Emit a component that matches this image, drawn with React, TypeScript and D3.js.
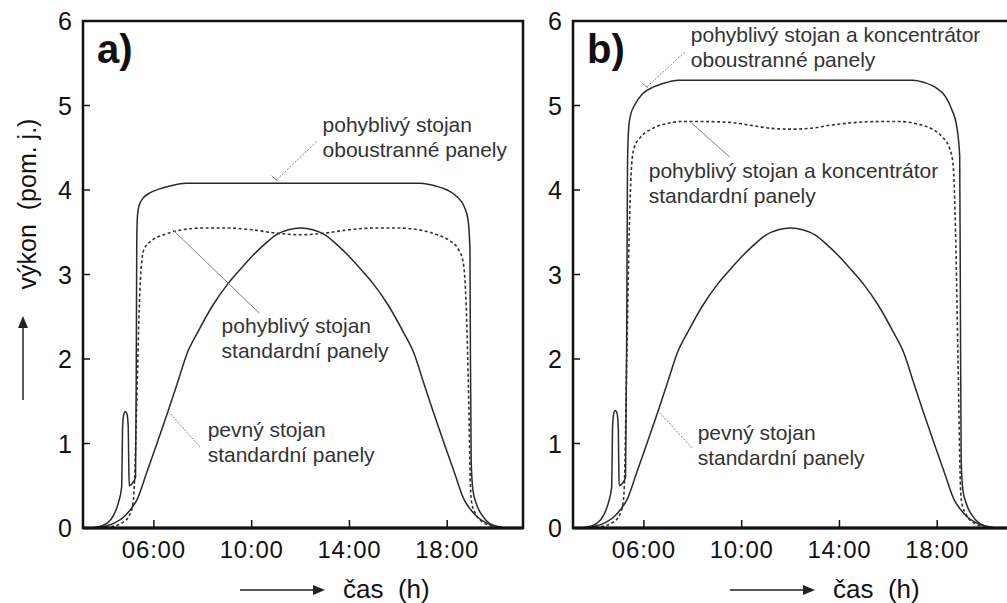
import React from "react";
import * as d3 from "d3";

// časová osa (h) a hodnoty výkonu (pom. j.)
const fixedT = [3.6, 4.0, 4.4, 4.8, 5.1, 5.3, 5.7, 6.1, 6.6, 7.0, 7.35, 7.8, 8.4, 9.0, 9.5, 10.0, 10.5, 11.0, 11.5, 12.0, 12.5, 13.0, 13.5, 14.0, 14.5, 15.0, 15.6, 16.2, 16.65, 17.0, 17.4, 17.9, 18.3, 18.7, 18.9, 19.2, 19.6, 20.0, 20.4];
const fixedV = [0, 0.02, 0.06, 0.14, 0.24, 0.33, 0.65, 0.98, 1.4, 1.75, 2.06, 2.32, 2.63, 2.88, 3.05, 3.21, 3.35, 3.47, 3.53, 3.55, 3.53, 3.47, 3.35, 3.21, 3.05, 2.88, 2.63, 2.32, 2.06, 1.75, 1.4, 0.98, 0.65, 0.33, 0.24, 0.14, 0.06, 0.02, 0];

// a) pohyblivý stojan, oboustranné panely
const trackBiT = [3.4, 3.8, 4.1, 4.35, 4.55, 4.68, 4.7, 4.72, 4.77, 4.83, 4.9, 4.95, 4.97, 4.99, 5.1, 5.25, 5.28, 5.3, 5.33, 5.4, 5.55, 5.8, 6.2, 6.7, 7.3, 12.0, 16.9, 17.5, 18.0, 18.4, 18.7, 18.85, 18.93, 18.95, 18.98, 19.05, 19.2, 19.45, 19.7, 20.0, 20.3];
const trackBiV = [0, 0.02, 0.06, 0.15, 0.3, 0.48, 0.8, 1.2, 1.35, 1.38, 1.35, 1.2, 0.8, 0.5, 0.52, 0.6, 2.0, 3.4, 3.7, 3.82, 3.9, 3.96, 4.01, 4.05, 4.08, 4.08, 4.08, 4.05, 4.0, 3.92, 3.8, 3.65, 3.3, 2.0, 0.8, 0.45, 0.28, 0.14, 0.06, 0.02, 0];

// a) pohyblivý stojan, standardní panely
const trackStdT = [3.8, 4.3, 4.7, 5.0, 5.15, 5.2, 5.3, 5.4, 5.5, 5.6, 5.9, 6.4, 7.0, 8.0, 9.0, 10.0, 11.0, 12.0, 13.0, 14.0, 15.0, 16.0, 17.0, 17.6, 18.1, 18.45, 18.65, 18.78, 18.88, 18.95, 19.0, 19.2, 19.5, 19.8, 20.2];
const trackStdV = [0, 0.02, 0.06, 0.15, 0.3, 0.5, 1.5, 2.6, 3.15, 3.3, 3.4, 3.47, 3.52, 3.55, 3.55, 3.53, 3.49, 3.47, 3.49, 3.53, 3.55, 3.55, 3.52, 3.47, 3.4, 3.3, 3.15, 2.6, 1.5, 0.5, 0.3, 0.15, 0.06, 0.02, 0];

// b) pohyblivý stojan a koncentrátor, oboustranné panely
const concBiT = [3.4, 3.8, 4.1, 4.35, 4.55, 4.68, 4.7, 4.72, 4.77, 4.83, 4.9, 4.95, 4.97, 4.99, 5.1, 5.25, 5.3, 5.33, 5.37, 5.45, 5.65, 5.95, 6.4, 6.9, 7.4, 12.0, 17.0, 17.5, 18.0, 18.35, 18.6, 18.8, 18.92, 18.95, 18.98, 19.05, 19.2, 19.45, 19.7, 20.0, 20.3];
const concBiV = [0, 0.02, 0.06, 0.15, 0.3, 0.48, 0.8, 1.2, 1.36, 1.39, 1.36, 1.2, 0.8, 0.5, 0.52, 0.6, 2.5, 4.3, 4.7, 4.88, 5.02, 5.14, 5.22, 5.27, 5.3, 5.3, 5.3, 5.27, 5.2, 5.1, 4.95, 4.75, 4.4, 2.5, 0.8, 0.45, 0.28, 0.14, 0.06, 0.02, 0];

// b) pohyblivý stojan a koncentrátor, standardní panely
const concStdT = [3.8, 4.3, 4.7, 5.0, 5.15, 5.2, 5.3, 5.4, 5.5, 5.6, 5.85, 6.3, 7.0, 7.5, 8.5, 9.5, 10.5, 11.2, 12.0, 12.8, 13.7, 14.7, 15.7, 16.5, 17.2, 17.8, 18.2, 18.5, 18.65, 18.75, 18.85, 18.95, 19.0, 19.2, 19.5, 19.8, 20.2];
const concStdV = [0, 0.02, 0.06, 0.15, 0.3, 0.5, 2.0, 3.5, 4.3, 4.5, 4.62, 4.72, 4.79, 4.81, 4.81, 4.8, 4.76, 4.73, 4.72, 4.73, 4.77, 4.8, 4.81, 4.81, 4.78, 4.72, 4.63, 4.5, 4.3, 3.5, 2.0, 0.5, 0.3, 0.15, 0.06, 0.02, 0];

const xTickValues = [6, 10, 14, 18];
const xTickLabels = ["06:00", "10:00", "14:00", "18:00"];
const yTickValues = [0, 1, 2, 3, 4, 5, 6];

// popisky: text a odkazová čára v datových souřadnicích [t, v]
const labelsA = [
  { lines: ["pohyblivý stojan", "oboustranné panely"], at: [12.9, 4.69], from: [12.65, 4.57], to: [11.02, 4.12], dashed: true, tick: true },
  { lines: ["pohyblivý stojan", "standardní panely"], at: [8.77, 2.31], from: [10.32, 2.54], to: [6.77, 3.53], dashed: false, tick: false },
  { lines: ["pevný stojan", "standardní panely"], at: [8.2, 1.08], from: [7.88, 0.96], to: [6.53, 1.4], dashed: true, tick: false },
];
const labelsB = [
  { lines: ["pohyblivý stojan a koncentrátor", "oboustranné panely"], at: [7.92, 5.75], from: [7.67, 5.63], to: [6.12, 5.22], dashed: true, tick: true },
  { lines: ["pohyblivý stojan a koncentrátor", "standardní panely"], at: [6.2, 4.14], from: [9.51, 4.39], to: [7.96, 4.79], dashed: false, tick: false },
  { lines: ["pevný stojan", "standardní panely"], at: [8.2, 1.04], from: [7.96, 0.95], to: [6.53, 1.4], dashed: true, tick: false },
];

const FONT = "'Liberation Sans', Arial, Helvetica, sans-serif";
const top = 21;
const bottom = 528;
const pw = 440;

const zip = (t: number[], v: number[]): [number, number][] => t.map((d, i) => [d, v[i]]);

type Label = { lines: string[]; at: number[]; from: number[]; to: number[]; dashed: boolean; tick: boolean };

const Panel = ({ left, tag, solid, dashed, labels, id }: { left: number; tag: string; solid: [number, number][]; dashed: [number, number][]; labels: Label[]; id: string }) => {
  const x = d3.scaleLinear().domain([3.1, 21.1]).range([left, left + pw]);
  const y = d3.scaleLinear().domain([0, 6]).range([bottom, top]);
  const line = d3
    .line<[number, number]>()
    .x((d) => x(d[0]))
    .y((d) => y(d[1]))
    .curve(d3.curveMonotoneX);
  const fixed = zip(fixedT, fixedV);

  return (
    <g>
      <defs>
        <clipPath id={id}>
          <rect x={left} y={top} width={pw} height={bottom - top} />
        </clipPath>
      </defs>
      <g clipPath={`url(#${id})`}>
        <path d={line(fixed) || ""} fill="none" stroke="#2a2a2a" strokeWidth={1.5} />
        <path d={line(dashed) || ""} fill="none" stroke="#333" strokeWidth={1.6} strokeDasharray="3,2.5" />
        <path d={line(solid) || ""} fill="none" stroke="#2a2a2a" strokeWidth={1.5} />
        {labels.map((l, i) => (
          <g key={i}>
            <line
              x1={x(l.from[0])}
              y1={y(l.from[1])}
              x2={x(l.to[0])}
              y2={y(l.to[1])}
              stroke="#808080"
              strokeWidth={1}
              strokeDasharray={l.dashed ? "2,1.5" : undefined}
            />
            {l.tick && (
              <line x1={x(l.to[0]) - 5} y1={y(l.to[1]) - 4} x2={x(l.to[0]) + 1} y2={y(l.to[1]) + 1} stroke="#808080" strokeWidth={1} />
            )}
          </g>
        ))}
      </g>
      {labels.map((l, i) =>
        l.lines.map((s, j) => (
          <text key={`${i}-${j}`} x={x(l.at[0])} y={y(l.at[1]) + j * 25} fontSize={21} fill="#333" fontFamily={FONT}>
            {s}
          </text>
        ))
      )}
      {/* rámeček */}
      <rect x={left} y={top} width={pw} height={bottom - top} fill="none" stroke="#111" strokeWidth={2.5} />
      <line x1={left} x2={left + pw} y1={bottom} y2={bottom} stroke="#111" strokeWidth={3} />
      {yTickValues.map((v) => (
        <g key={v}>
          <line x1={left} x2={left + 7} y1={y(v)} y2={y(v)} stroke="#111" strokeWidth={1.5} />
          <text x={left - 11} y={y(v) + 9} textAnchor="end" fontSize={25} fill="#111" fontFamily={FONT}>
            {v}
          </text>
        </g>
      ))}
      {xTickValues.map((v, i) => (
        <g key={v}>
          <line x1={x(v)} x2={x(v)} y1={bottom} y2={bottom - 8} stroke="#111" strokeWidth={1.5} />
          <text x={x(v)} y={558} textAnchor="middle" fontSize={24} letterSpacing={0.8} fill="#111" fontFamily={FONT}>
            {xTickLabels[i]}
          </text>
        </g>
      ))}
      <text x={left + 14} y={63} fontSize={40} fontWeight="bold" fill="#111" fontFamily={FONT}>
        {tag}
      </text>
      {/* popis osy x */}
      <line x1={left + 157} x2={left + 233} y1={590} y2={590} stroke="#222" strokeWidth={1.5} />
      <path d={`M${left + 242},590 L${left + 230},585 L${left + 230},595 Z`} fill="#222" />
      <text x={left + 260} y={598} fontSize={26} fill="#111" fontFamily={FONT} style={{ whiteSpace: "pre" }}>
        {"čas  (h)"}
      </text>
    </g>
  );
};

const App = () => {
  return (
    <svg width={1007} height={603} style={{ position: "absolute", left: 0, top: 0, background: "#fff" }}>
      <rect width={1007} height={603} fill="#fff" />
      <Panel left={83} tag="a)" solid={zip(trackBiT, trackBiV)} dashed={zip(trackStdT, trackStdV)} labels={labelsA} id="clipA" />
      <Panel left={573} tag="b)" solid={zip(concBiT, concBiV)} dashed={zip(concStdT, concStdV)} labels={labelsB} id="clipB" />
      {/* popis osy y */}
      <text
        transform="translate(36,204) rotate(-90)"
        textAnchor="middle"
        fontSize={25}
        fill="#111"
        fontFamily={FONT}
        style={{ whiteSpace: "pre" }}
      >
        {"výkon  (pom. j.)"}
      </text>
      <line x1={23} x2={23} y1={400} y2={326} stroke="#222" strokeWidth={1.5} />
      <path d="M23,316 L18,328 L28,328 Z" fill="#222" />
    </svg>
  );
};

export default App;
